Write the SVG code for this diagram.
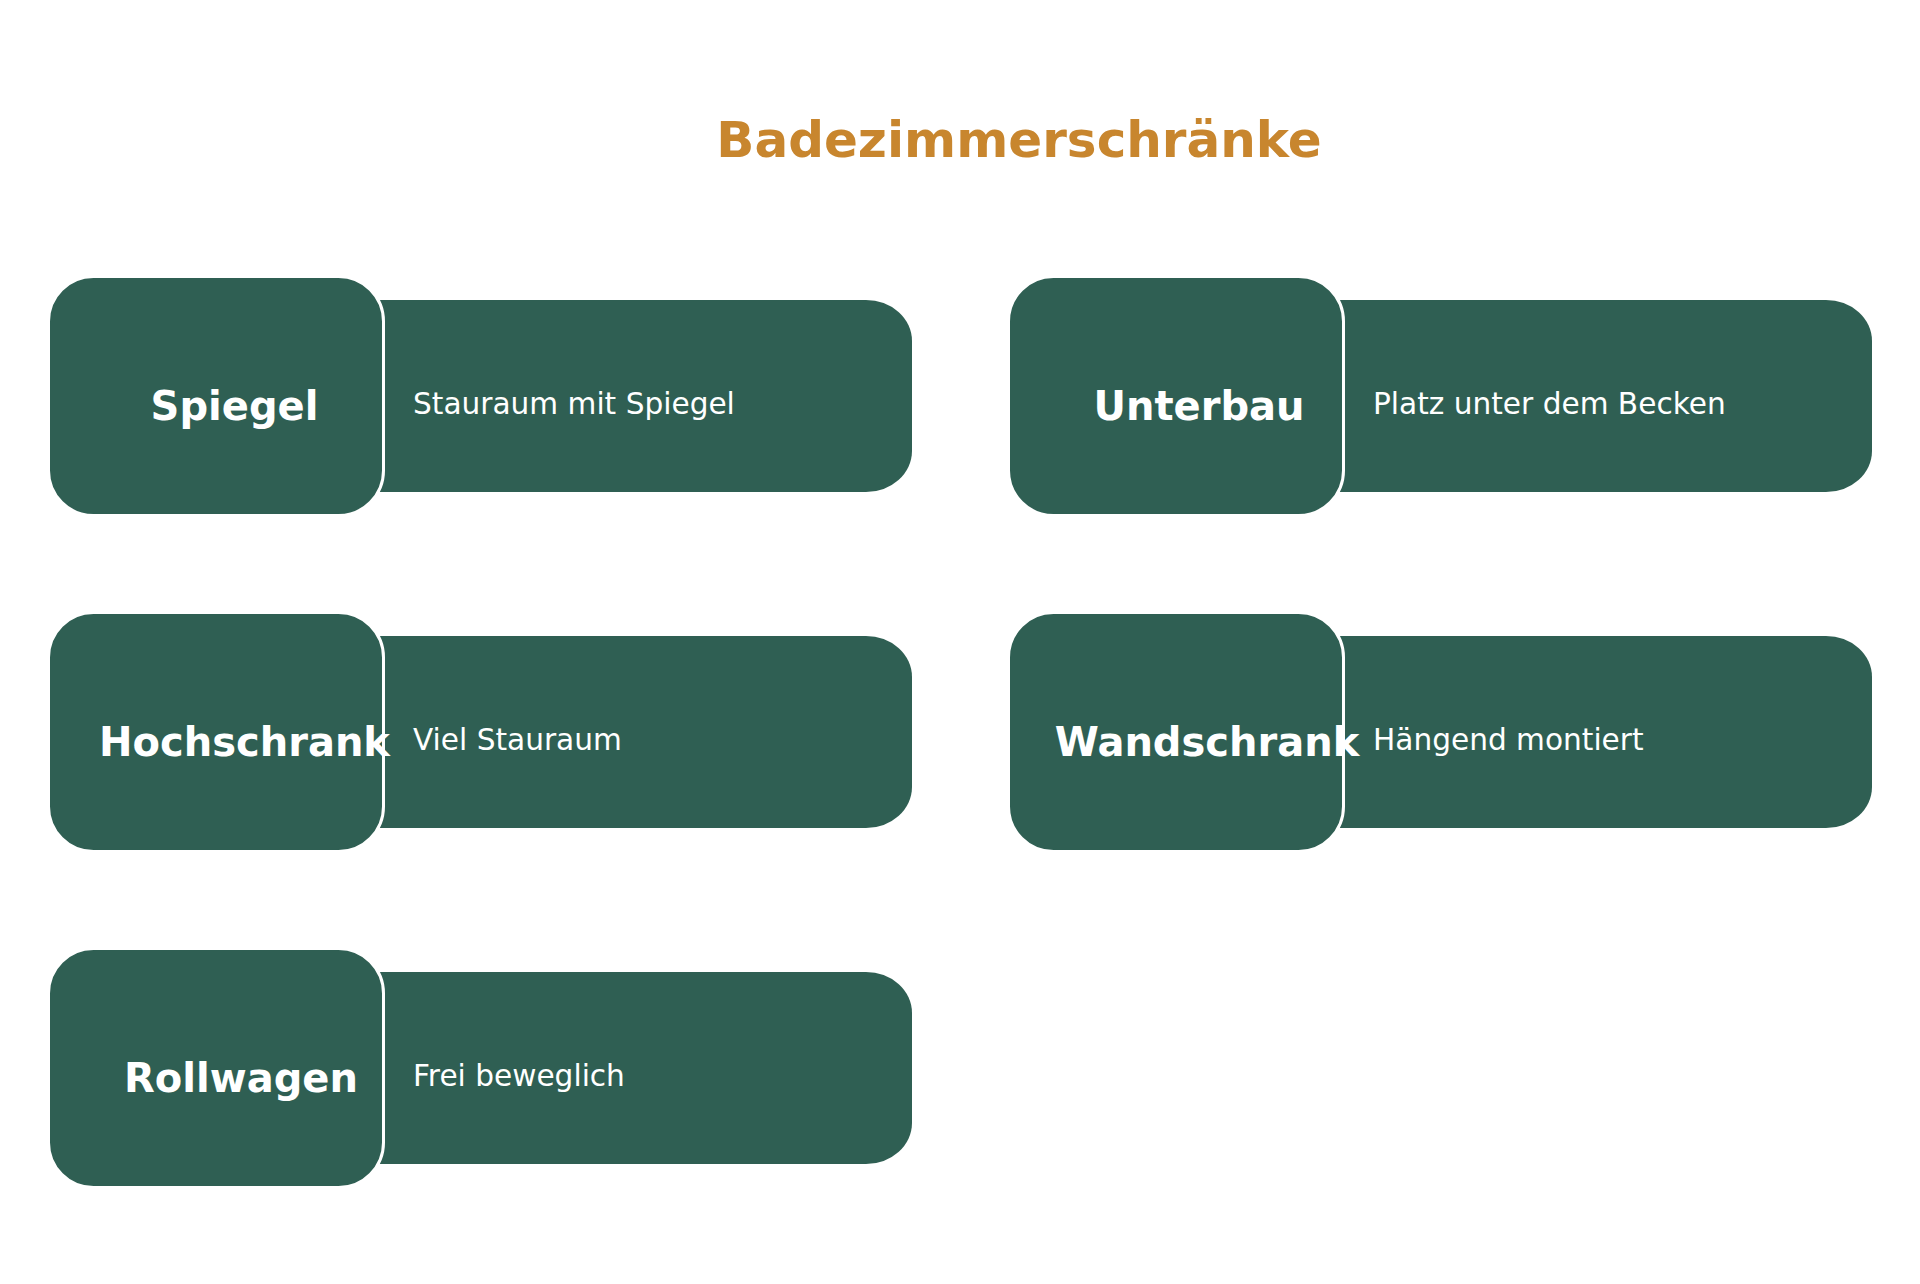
<svg xmlns="http://www.w3.org/2000/svg" width="1920" height="1284" viewBox="0 0 1920 1284">
<style>
.bg{fill:#ffffff}
.title{font-family:"DejaVu Sans","Liberation Sans",sans-serif;font-weight:bold;font-size:50px;fill:#C8862E}
.head{fill:#2F5F53;stroke:#ffffff;stroke-width:3}
.desc{fill:#2F5F53}
.lbl{font-family:"DejaVu Sans","Liberation Sans",sans-serif;font-weight:bold;font-size:40px;fill:#ffffff}
.dtx{font-family:"DejaVu Sans","Liberation Sans",sans-serif;font-size:29.6px;fill:#ffffff}
</style>
<defs>
<path id="descShape" d="M0,0 H486 A46,41 0 0 1 532,41 V151 A46,41 0 0 1 486,192 H0 Z"/>
</defs>
<rect class="bg" x="0" y="0" width="1920" height="1284"/>
<text class="title" x="1019" y="157" text-anchor="middle">Badezimmerschränke</text>
<g id="connectors"/>
<g id="node-spiegel">
<use href="#descShape" class="desc" x="380" y="300"/>
<rect class="head" x="48.5" y="276.5" width="335" height="239" rx="45" ry="45"/>
<text class="lbl" x="234.5" y="420" text-anchor="middle">Spiegel</text>
<text class="dtx" x="413" y="414">Stauraum mit Spiegel</text>
</g>
<g id="node-unterbau">
<use href="#descShape" class="desc" x="1340" y="300"/>
<rect class="head" x="1008.5" y="276.5" width="335" height="239" rx="45" ry="45"/>
<text class="lbl" x="1199" y="420" text-anchor="middle">Unterbau</text>
<text class="dtx" x="1373" y="414">Platz unter dem Becken</text>
</g>
<g id="node-hochschrank">
<use href="#descShape" class="desc" x="380" y="636"/>
<rect class="head" x="48.5" y="612.5" width="335" height="239" rx="45" ry="45"/>
<text class="lbl" x="244.5" y="756" text-anchor="middle">Hochschrank</text>
<text class="dtx" x="413" y="750">Viel Stauraum</text>
</g>
<g id="node-wandschrank">
<use href="#descShape" class="desc" x="1340" y="636"/>
<rect class="head" x="1008.5" y="612.5" width="335" height="239" rx="45" ry="45"/>
<text class="lbl" x="1207" y="756" text-anchor="middle">Wandschrank</text>
<text class="dtx" x="1373" y="750">Hängend montiert</text>
</g>
<g id="node-rollwagen">
<use href="#descShape" class="desc" x="380" y="972"/>
<rect class="head" x="48.5" y="948.5" width="335" height="239" rx="45" ry="45"/>
<text class="lbl" x="241" y="1092" text-anchor="middle">Rollwagen</text>
<text class="dtx" x="413" y="1086">Frei beweglich</text>
</g>
</svg>
